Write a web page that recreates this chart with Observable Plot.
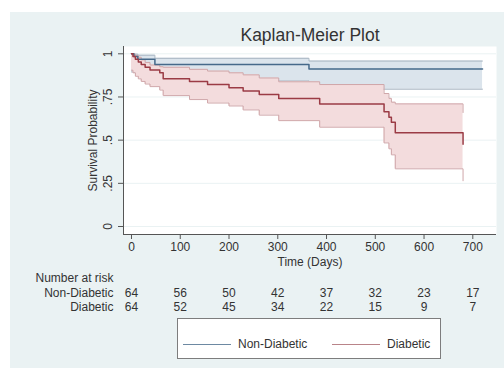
<!DOCTYPE html>
<html>
<head>
<meta charset="utf-8">
<script src="https://cdn.jsdelivr.net/npm/d3@7"></script>
<script src="https://cdn.jsdelivr.net/npm/@observablehq/plot@0.6"></script>
<style>
  html, body { margin: 0; padding: 0; background: #ffffff; }
  body { width: 504px; height: 371px; overflow: hidden; }
  #wrap {
    position: absolute; left: 10px; top: 12px; width: 494px; height: 356px;
    background: #eaf2f3; font-family: "Liberation Sans", Arial, sans-serif;
  }
  #legend {
    position: relative; margin-left: 167px; margin-top: 4px;
    width: 262px; height: 39px; border: 1px solid #7d7d7d; background: #ffffff;
    font-size: 12px; color: #333;
  }
  .sw { position: absolute; top: 25px; width: 48px; height: 0; border-top: 1.4px solid; }
  .lb { position: absolute; top: 18px; line-height: 14px; }
</style>
</head>
<body>
<div id="wrap"><div id="chart"></div>
  <div id="legend">
    <div class="sw" style="left:5px;border-color:#6d89a2"></div><div class="lb" style="left:60px">Non-Diabetic</div>
    <div class="sw" style="left:154px;border-color:#b98489"></div><div class="lb" style="left:209px">Diabetic</div>
  </div>
</div>
<script>
// ---- Data ----
const nonDiabTime  = [0, 5, 13, 48, 364, 720];
const nonDiabSurv  = [1, 0.984, 0.969, 0.9375, 0.912, 0.912];
const nonDiabLower = [0.895, 0.893, 0.88, 0.843, 0.795, 0.795];
const nonDiabUpper = [1, 0.998, 0.992, 0.974, 0.958, 0.958];

const diabTime  = [0, 3, 8, 14, 20, 28, 38, 58, 65, 119, 156, 200, 229, 262, 302, 386, 518, 528, 533, 541, 680];
const diabSurv  = [1, 0.984, 0.969, 0.953, 0.938, 0.922, 0.906, 0.89, 0.856, 0.84, 0.822, 0.804, 0.784, 0.765, 0.741, 0.71, 0.664, 0.633, 0.604, 0.543, 0.477];
const diabLower = [0.905, 0.89, 0.87, 0.855, 0.84, 0.825, 0.81, 0.79, 0.758, 0.735, 0.715, 0.698, 0.675, 0.645, 0.613, 0.575, 0.484, 0.45, 0.415, 0.334, 0.265];
const diabUpper = [1, 0.998, 0.99, 0.98, 0.965, 0.95, 0.935, 0.925, 0.922, 0.91, 0.9, 0.89, 0.878, 0.86, 0.838, 0.822, 0.77, 0.742, 0.72, 0.71, 0.66];

const riskTimes    = [0, 100, 200, 300, 400, 500, 600, 700];
const riskNonDiab  = [64, 56, 50, 42, 37, 32, 23, 17];
const riskDiab     = [64, 52, 45, 34, 22, 15, 9, 7];

const xTicks = [0, 100, 200, 300, 400, 500, 600, 700];
const yTicks = [0, 0.25, 0.5, 0.75, 1];
const yTickLabels = ["0", ".25", ".5", ".75", "1"];

const title = "Kaplan-Meier Plot";
const xLabel = "Time (Days)";
const yLabel = "Survival Probability";
const riskTitle = "Number at risk";
const groups = ["Non-Diabetic", "Diabetic"];

// ---- Tables built from the arrays ----
const nonDiab = nonDiabTime.map((t, i) => ({t, s: nonDiabSurv[i], lo: nonDiabLower[i], hi: nonDiabUpper[i]}));
const diab = diabTime.map((t, i) => ({t, s: diabSurv[i], lo: diabLower[i], hi: diabUpper[i]}));
const riskRows = riskTimes.flatMap((t, i) => [
  {t, n: riskNonDiab[i], g: groups[0]},
  {t, n: riskDiab[i], g: groups[1]}
]);

const xDomain = [-16.4, 748.6];
const yDomain = [-0.0463, 1.0423];

const col = {
  blueLine: "#46698a", blueFill: "#dbe4ec", blueEdge: "#a7b4c1",
  redLine: "#9b3b45", redFill: "#f3dcdd", redEdge: "#cfa6a9",
  axis: "#555555", text: "#333333"
};

const rowDy = {"Non-Diabetic": 59, "Diabetic": 73};

const chart = Plot.plot({
  width: 494,
  height: 302,
  marginLeft: 113,
  marginRight: 8,
  marginTop: 34,
  marginBottom: 80,
  style: {fontFamily: '"Liberation Sans", Arial, sans-serif', fontSize: "12px", background: "transparent", color: col.text},
  x: {domain: xDomain},
  y: {domain: yDomain},
  marks: [
    Plot.frame({fill: "white", stroke: null}),
    Plot.gridY(yTicks, {stroke: "#eaf2f3", strokeOpacity: 1}),
    // Non-Diabetic CI
    Plot.areaY(nonDiab, {x: "t", y1: "lo", y2: "hi", curve: "step-after", fill: col.blueFill}),
    Plot.lineY(nonDiab, {x: "t", y: "hi", curve: "step-after", stroke: col.blueEdge, strokeWidth: 1}),
    Plot.lineY(nonDiab, {x: "t", y: "lo", curve: "step-after", stroke: col.blueEdge, strokeWidth: 1}),
    // Diabetic CI
    Plot.areaY(diab, {x: "t", y1: "lo", y2: "hi", curve: "step-after", fill: col.redFill}),
    Plot.lineY(diab, {x: "t", y: "hi", curve: "step-after", stroke: col.redEdge, strokeWidth: 1}),
    Plot.lineY(diab, {x: "t", y: "lo", curve: "step-after", stroke: col.redEdge, strokeWidth: 1}),
    // Survival curves
    Plot.lineY(nonDiab, {x: "t", y: "s", curve: "step-after", stroke: col.blueLine, strokeWidth: 1.5}),
    Plot.lineY(diab, {x: "t", y: "s", curve: "step-after", stroke: col.redLine, strokeWidth: 1.5}),
    // axis lines
    Plot.ruleY([yDomain[0]], {stroke: col.axis}),
    Plot.ruleX([xDomain[0]], {stroke: col.axis}),
    Plot.axisX({ticks: xTicks, tickSize: 5, tickPadding: 3, label: null, stroke: col.axis, tickFormat: d => String(d)}),
    Plot.axisY({ticks: yTicks, tickSize: 5, tickPadding: 7, tickRotate: -90, label: null, stroke: col.axis,
      tickFormat: d => yTickLabels[yTicks.indexOf(d)]}),
    // title & axis labels
    Plot.text([title], {frameAnchor: "top", dy: -11, lineAnchor: "middle", fontSize: 17.5, text: d => d}),
    Plot.text([xLabel], {frameAnchor: "bottom", dy: 28, lineAnchor: "middle", text: d => d}),
    Plot.text([yLabel], {frameAnchor: "left", dx: -30, rotate: -90, textAnchor: "middle", lineAnchor: "middle", text: d => d}),
    // number at risk
    Plot.text([riskTitle], {frameAnchor: "bottom-left", dx: -10, dy: 44, textAnchor: "end", lineAnchor: "middle", text: d => d}),
    ...groups.map(g => Plot.text([g], {frameAnchor: "bottom-left", dx: -10, dy: rowDy[g], textAnchor: "end", lineAnchor: "middle", text: d => d})),
    ...groups.map(g => Plot.text(riskRows.filter(r => r.g === g), {x: "t", frameAnchor: "bottom", dy: rowDy[g], lineAnchor: "middle", text: "n"}))
  ]
});
document.getElementById("chart").appendChild(chart);
</script>
</body>
</html>
